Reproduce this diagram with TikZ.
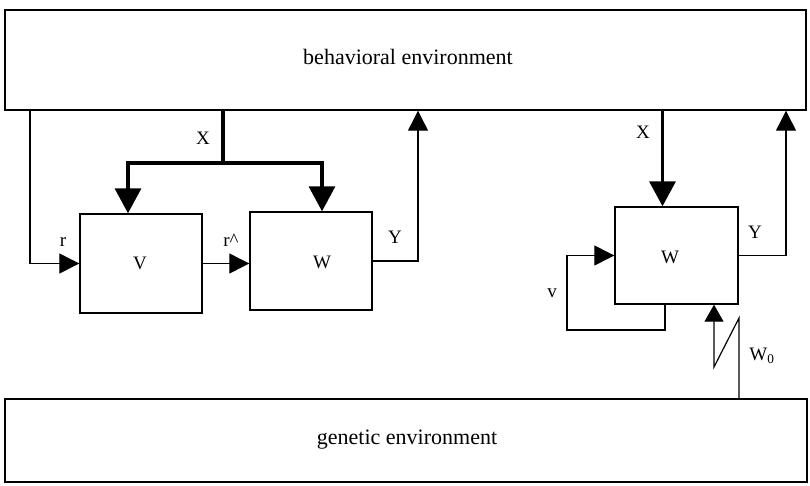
\documentclass[tikz,border=0pt]{standalone}
\usepackage{fontspec}
\setmainfont{Liberation Serif}
\usetikzlibrary{arrows.meta}
\begin{document}
\begin{tikzpicture}[x=1pt,y=-1pt,
  box/.style={draw,line width=1.4pt,rectangle,inner sep=0pt},
  envtext/.style={font=\fontsize{22}{25}\selectfont},
  lbl/.style={inner sep=0pt,font=\fontsize{19}{21}\selectfont},
  wire/.style={line width=1.2pt,line join=miter},
  arr/.style={wire,-{Triangle[length=20pt,width=20pt]}},
  arrsm/.style={wire,-{Triangle[length=17pt,width=19pt]}},
  fat/.style={line width=3.5pt,line join=miter},
  fatarr/.style={fat,-{Triangle[length=25pt,width=26pt]}}]
\useasboundingbox (0,0) rectangle (810,485);

% environments
\node[box,minimum width=801pt,minimum height=100pt] (beh) at (405.5,60) {};
\node[envtext] (behtxt) at (408,57) {behavioral environment};
\node[box,minimum width=802pt,minimum height=83pt] (gen) at (406,440.5) {};
\node[envtext] (gentxt) at (407,440) {genetic environment};

% processing boxes
\node[box,minimum width=122pt,minimum height=99pt] (V) at (141,263.5) {};
\node[lbl] (Vt) at (140,263) {V};
\node[box,minimum width=122pt,minimum height=98pt] (W1) at (311,261) {};
\node[lbl] (W1t) at (322,262) {W};
\node[box,minimum width=123pt,minimum height=97pt] (W2) at (676.5,255.5) {};
\node[lbl] (W2t) at (670,257) {W};

% helper points for the wires
\coordinate (cR) at (30,0);
\coordinate (xj) at (223,163);
\coordinate (cY1) at (418,0);
\coordinate (cY2) at (786,0);
\coordinate (cV) at (567,330);
\coordinate (w0top) at (739,318);
\coordinate (w0bot) at (714,367);

% left system
\draw[arr] (beh.south -| cR) |- (V.west);
\draw[fat] (beh.south -| xj) -- (xj);
\draw[fatarr] (xj) -| ([xshift=-13pt]V.north);
\draw[fatarr] (xj) -| ([xshift=11pt]W1.north);
\draw[arr] (V.east) -- (V.east -| W1.west);
\draw[arr] (W1.east) -| (beh.south -| cY1);

% right system
\draw[fatarr] (beh.south -| W2.north) ++(-14pt,0) coordinate (x2top) -- ([xshift=-14pt]W2.north);
\draw[arr] (W2.east) -| (beh.south -| cY2);
\draw[arr] ([xshift=-11.5pt]W2.south) |- (cV) |- (W2.west);
\draw[arrsm] (gen.north -| w0top) -- (w0top) -- (w0bot) -- (W2.south -| w0bot);

% signal labels
\node[lbl] (X1) at (203,138) {X};
\node[lbl] (X2) at (643,132) {X};
\node[lbl] (r) at (63,242) {r};
\node[lbl] (rh) at (231,240) {r\textasciicircum};
\node[lbl] (Y1) at (395,237) {Y};
\node[lbl] (Y2) at (755,232) {Y};
\node[lbl] (v) at (552,293) {v};
\node[lbl] (W0) at (762,356) {W\textsubscript{0}};
\end{tikzpicture}
\end{document}
